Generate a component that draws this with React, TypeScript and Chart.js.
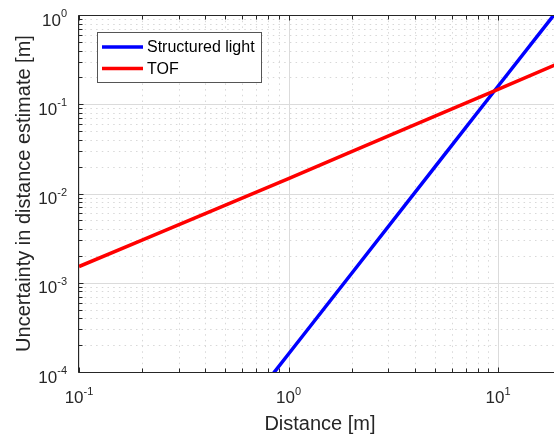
import React, { useEffect, useRef } from 'react';
import { Chart, registerables } from 'chart.js';

Chart.register(...registerables);

// ---- Data ----
const seriesNames = ['Structured light', 'TOF'];
const structuredLightDistance = [0.85, 1, 2, 5, 10, 20];
const structuredLightUncertainty = [9.76e-5, 1.59e-4, 1.27e-3, 0.0199, 0.159, 1.27];
const tofDistance = [0.1, 0.2, 0.5, 1, 2, 5, 10, 20];
const tofUncertainty = [0.00152, 0.003, 0.0074, 0.0147, 0.0294, 0.0735, 0.147, 0.294];
const xDecades = [-1, 0, 1];
const yDecades = [-4, -3, -2, -1, 0];
const xLabel = 'Distance [m]';
const yLabel = 'Uncertainty in distance estimate [m]';

const FONT = '"Liberation Sans", Arial, Helvetica, sans-serif';
const AXIS_COLOR = '#262626';

function drawPow(ctx: CanvasRenderingContext2D, exp: number, x: number, baseY: number, align: 'center' | 'right') {
  const base = '10';
  const sup = String(exp);
  ctx.font = `17px ${FONT}`;
  const wb = ctx.measureText(base).width;
  ctx.font = `11px ${FONT}`;
  const ws = ctx.measureText(sup).width;
  const total = wb + ws;
  const left = align === 'center' ? x - total / 2 : x - total;
  ctx.fillStyle = AXIS_COLOR;
  ctx.textAlign = 'left';
  ctx.textBaseline = 'alphabetic';
  ctx.font = `17px ${FONT}`;
  ctx.fillText(base, left, baseY);
  ctx.font = `11px ${FONT}`;
  ctx.fillText(sup, left + wb, baseY - 8.5);
}

const matlabPlugin = {
  id: 'matlabStyle',
  beforeDatasetsDraw(chart: any) {
    const { ctx, chartArea: a, scales } = chart;
    const xs = scales.x;
    const ys = scales.y;
    ctx.save();
    ctx.beginPath();
    ctx.rect(a.left, a.top, a.right - a.left, a.bottom - a.top);
    ctx.clip();
    // minor grid (dotted)
    ctx.strokeStyle = '#d8d8d8';
    ctx.lineWidth = 1;
    ctx.setLineDash([1.5, 4.2]);
    for (const d of xDecades.concat([-2, 2])) {
      for (let m = 2; m <= 9; m++) {
        const v = m * Math.pow(10, d);
        const px = Math.round(xs.getPixelForValue(v)) + 0.5;
        if (px < a.left || px > a.right) continue;
        ctx.beginPath();
        ctx.moveTo(px, a.top);
        ctx.lineTo(px, a.bottom);
        ctx.stroke();
      }
    }
    for (const d of yDecades) {
      for (let m = 2; m <= 9; m++) {
        const v = m * Math.pow(10, d);
        const py = Math.round(ys.getPixelForValue(v)) + 0.5;
        if (py < a.top || py > a.bottom) continue;
        ctx.beginPath();
        ctx.moveTo(a.left, py);
        ctx.lineTo(a.right, py);
        ctx.stroke();
      }
    }
    // major grid (solid)
    ctx.setLineDash([]);
    ctx.strokeStyle = '#dbdbdb';
    for (const d of xDecades) {
      const px = Math.round(xs.getPixelForValue(Math.pow(10, d))) + 0.5;
      ctx.beginPath();
      ctx.moveTo(px, a.top);
      ctx.lineTo(px, a.bottom);
      ctx.stroke();
    }
    for (const d of yDecades) {
      const py = Math.round(ys.getPixelForValue(Math.pow(10, d))) + 0.5;
      ctx.beginPath();
      ctx.moveTo(a.left, py);
      ctx.lineTo(a.right, py);
      ctx.stroke();
    }
    ctx.restore();
  },
  afterDatasetsDraw(chart: any) {
    const { ctx, chartArea: a, scales } = chart;
    const xs = scales.x;
    const ys = scales.y;
    ctx.save();
    ctx.setLineDash([]);
    ctx.strokeStyle = AXIS_COLOR;
    ctx.lineWidth = 1;
    const L = Math.round(a.left) - 0.5;
    const B = Math.round(a.bottom) + 0.5;
    const T = Math.round(a.top) + 0.5;
    // axis lines
    ctx.beginPath();
    ctx.moveTo(L, T);
    ctx.lineTo(L, B);
    ctx.lineTo(a.right + 1, B);
    ctx.moveTo(L, T);
    ctx.lineTo(a.right + 1, T);
    ctx.stroke();
    // ticks (inward)
    ctx.beginPath();
    for (const d of xDecades.concat([-2, 2])) {
      for (let m = 1; m <= 9; m++) {
        const v = m * Math.pow(10, d);
        const px = Math.round(xs.getPixelForValue(v)) + 0.5;
        if (px < a.left - 1 || px > a.right) continue;
        const len = m === 1 ? 5 : 4;
        ctx.moveTo(px, B);
        ctx.lineTo(px, B - len);
        ctx.moveTo(px, T);
        ctx.lineTo(px, T + len);
      }
    }
    for (const d of yDecades) {
      for (let m = 1; m <= 9; m++) {
        const v = m * Math.pow(10, d);
        const py = Math.round(ys.getPixelForValue(v)) + 0.5;
        if (py < a.top - 1 || py > a.bottom + 1) continue;
        const len = m === 1 ? 5 : 4;
        ctx.moveTo(L, py);
        ctx.lineTo(L + len, py);
      }
    }
    ctx.stroke();
    // tick labels
    for (const d of xDecades) {
      const px = xs.getPixelForValue(Math.pow(10, d));
      drawPow(ctx, d, px, a.bottom + 31, 'center');
    }
    for (const d of yDecades) {
      const py = ys.getPixelForValue(Math.pow(10, d));
      drawPow(ctx, d, a.left - 12, py + 10.5, 'right');
    }
    // axis titles
    ctx.fillStyle = AXIS_COLOR;
    ctx.font = `20px ${FONT}`;
    ctx.textAlign = 'center';
    ctx.textBaseline = 'alphabetic';
    ctx.fillText(xLabel, 320, 430);
    ctx.save();
    ctx.translate(29.5, (a.top + a.bottom) / 2);
    ctx.rotate(-Math.PI / 2);
    ctx.fillText(yLabel, 0, 0);
    ctx.restore();
    // legend
    const lx = 97.5, ly = 32.5, lw = 164, lh = 50;
    ctx.fillStyle = '#ffffff';
    ctx.fillRect(lx, ly, lw, lh);
    ctx.strokeStyle = '#555555';
    ctx.lineWidth = 1;
    ctx.strokeRect(lx, ly, lw, lh);
    const colors = chart.data.datasets.map((ds: any) => ds.borderColor);
    const rows = [47, 68.5];
    seriesNames.forEach((name, i) => {
      ctx.strokeStyle = colors[i];
      ctx.lineWidth = 3.5;
      ctx.beginPath();
      ctx.moveTo(102, rows[i]);
      ctx.lineTo(143, rows[i]);
      ctx.stroke();
      ctx.fillStyle = '#000000';
      ctx.font = `16px ${FONT}`;
      ctx.textAlign = 'left';
      ctx.textBaseline = 'middle';
      ctx.fillText(name, 147, rows[i] + 1);
    });
    ctx.restore();
  },
};

export default function App() {
  const canvasRef = useRef<HTMLCanvasElement | null>(null);

  useEffect(() => {
    const canvas = canvasRef.current;
    if (!canvas) return;
    const chart = new Chart(canvas, {
      type: 'line',
      data: {
        datasets: [
          {
            label: seriesNames[0],
            data: structuredLightDistance.map((x, i) => ({ x, y: structuredLightUncertainty[i] })),
            borderColor: '#0000ff',
            backgroundColor: '#0000ff',
            borderWidth: 3.5,
            pointRadius: 0,
            tension: 0,
            fill: false,
            clip: 0,
            order: 1,
          },
          {
            label: seriesNames[1],
            data: tofDistance.map((x, i) => ({ x, y: tofUncertainty[i] })),
            borderColor: '#ff0000',
            backgroundColor: '#ff0000',
            borderWidth: 3.5,
            pointRadius: 0,
            tension: 0,
            fill: false,
            clip: 0,
            order: 0,
          },
        ],
      },
      options: {
        animation: false,
        responsive: false,
        maintainAspectRatio: false,
        devicePixelRatio: 1,
        layout: { padding: { top: 15, left: 0, right: 0, bottom: 0 } },
        plugins: { legend: { display: false }, tooltip: { enabled: false } },
        events: [],
        scales: {
          x: {
            type: 'logarithmic',
            min: 0.1,
            max: 18.5,
            grid: { display: false },
            border: { display: false },
            ticks: { display: false },
            afterFit: (s: any) => {
              s.height = 63;
            },
          },
          y: {
            type: 'logarithmic',
            min: 1e-4,
            max: 1,
            grid: { display: false },
            border: { display: false },
            ticks: { display: false },
            afterFit: (s: any) => {
              s.width = 79;
            },
          },
        },
      } as any,
      plugins: [matlabPlugin],
    });
    return () => chart.destroy();
  }, []);

  return (
    <div style={{ position: 'absolute', left: 0, top: 0, width: 554, height: 435, background: '#ffffff' }}>
      <canvas ref={canvasRef} width={554} height={435} style={{ display: 'block', width: 554, height: 435 }} />
    </div>
  );
}
